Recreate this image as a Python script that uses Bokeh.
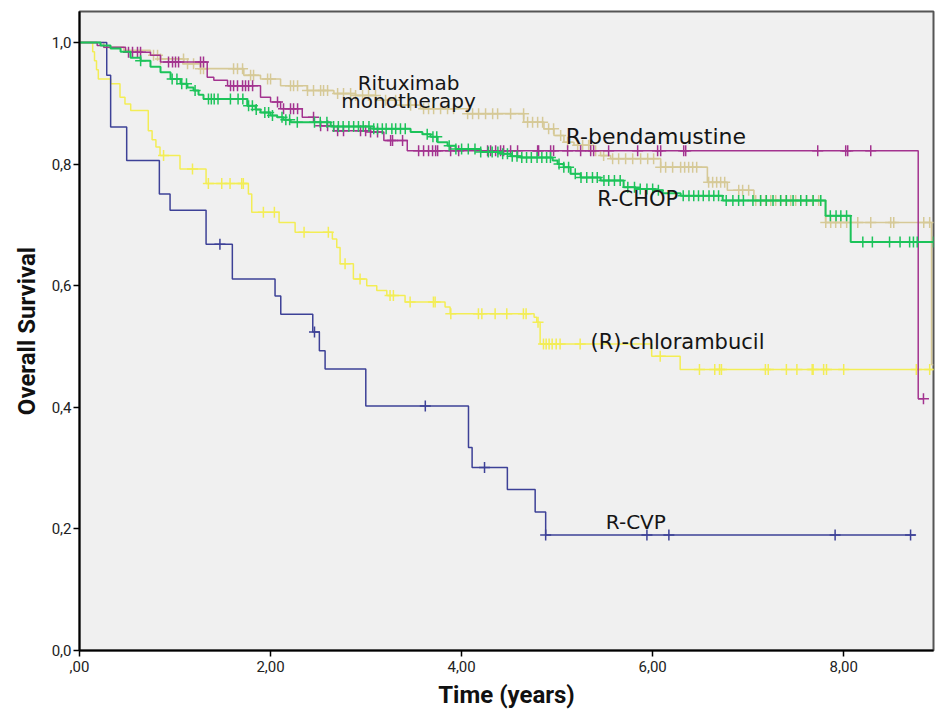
import numpy as np
from bokeh.plotting import figure
from bokeh.models import Range1d, FixedTicker, Label
from bokeh.embed import file_html
from bokeh.resources import INLINE

# ---------------- data ----------------
x_ticks = [0, 2, 4, 6, 8]
x_tick_labels = [",00", "2,00", "4,00", "6,00", "8,00"]
y_ticks = [0.0, 0.2, 0.4, 0.6, 0.8, 1.0]
y_tick_labels = ["0,0", "0,2", "0,4", "0,6", "0,8", "1,0"]

# Rituximab monotherapy (tan)
ritux_t = [0, 0.254, 0.464, 0.743, 0.848, 1.092, 1.267, 1.72, 1.895, 2.105, 2.384, 2.663, 2.89, 3.10, 3.31,
           3.57, 4.06, 4.65, 4.862, 4.967, 5.071, 5.176, 5.35, 5.455, 5.56, 6.084, 6.573, 6.782, 7.06, 7.81, 8.92]
ritux_s = [1.0, 0.992, 0.987, 0.979, 0.973, 0.965, 0.957, 0.946, 0.940, 0.929, 0.921, 0.916, 0.913, 0.905, 0.897,
           0.891, 0.883, 0.869, 0.858, 0.847, 0.836, 0.831, 0.822, 0.814, 0.809, 0.795, 0.770, 0.757, 0.740, 0.704, 0.47]
ritux_end = 8.94
ritux_cens = [0.775, 0.817, 0.848, 1.089, 1.131, 1.194, 1.267, 1.298, 1.613, 1.654, 1.707, 1.791, 1.822, 1.969,
              2.0, 2.209, 2.241, 2.283, 2.387, 2.45, 2.524, 2.555, 2.597, 2.702, 2.764, 2.838, 2.89, 2.963, 3.026,
              3.099, 3.204, 3.309, 3.466, 3.602, 3.654, 3.707, 3.78, 3.853, 3.916, 4.063, 4.115, 4.178, 4.251,
              4.325, 4.377, 4.513, 4.649, 4.691, 4.743, 4.796, 4.848, 4.911, 4.963, 5.037, 5.11, 5.215, 5.267,
              5.33, 5.403, 5.487, 5.581, 5.644, 5.717, 5.791, 5.874, 5.948, 6.01, 6.084, 6.136, 6.209, 6.293,
              6.335, 6.377, 6.419, 6.461, 6.586, 6.628, 6.67, 6.712, 6.754, 6.901, 6.942, 7.005, 7.079, 7.131,
              7.183, 7.236, 7.288, 7.34, 7.393, 7.445, 7.497, 7.55, 7.613, 7.675, 7.738, 7.812, 7.864, 7.916,
              7.969, 8.031, 8.147, 8.283, 8.492, 8.524, 8.838, 8.90]

# R-bendamustine (magenta)
benda_t = [0, 0.185, 0.254, 0.482, 0.743, 0.848, 1.337, 1.406, 1.55, 1.895, 2.0, 2.105, 2.332, 2.453, 2.524,
           2.663, 3.047, 3.186, 3.431, 8.78]
benda_s = [1.0, 0.995, 0.992, 0.984, 0.979, 0.968, 0.943, 0.938, 0.929, 0.910, 0.902, 0.891, 0.877, 0.869, 0.863,
           0.855, 0.853, 0.839, 0.822, 0.414]
benda_end = 8.835
benda_cens = [0.513, 0.555, 0.607, 0.639, 0.932, 0.974, 1.005, 1.037, 1.267, 1.298, 1.581, 1.613, 1.654, 1.707,
              1.738, 1.77, 1.812, 2.073, 2.136, 2.209, 2.241, 2.283, 2.45, 2.524, 2.597, 2.702, 2.764, 2.942,
              2.995, 3.047, 3.12, 3.257, 3.277, 3.382, 3.55, 3.602, 3.654, 3.696, 3.728, 3.749, 3.885, 3.969,
              4.272, 4.304, 4.356, 4.408, 4.44, 4.513, 4.586, 4.796, 4.806, 4.932, 4.963, 5.11, 5.246, 5.351,
              5.382, 5.539, 5.843, 6.052, 6.084, 6.325, 6.346, 7.728, 8.021, 8.042, 8.283, 8.835]

# R-CHOP (green)
chop_t = [0, 0.22, 0.325, 0.43, 0.534, 0.64, 0.743, 0.848, 0.953, 1.058, 1.13, 1.194, 1.246, 1.298, 1.756, 1.843,
          1.895, 2.0, 2.07, 2.136, 2.21, 2.63, 3.08, 3.466, 3.59, 3.675, 3.749, 3.853, 3.937, 4.199, 4.408, 4.513,
          4.618, 4.953, 5.005, 5.068, 5.141, 5.246, 5.455, 5.696, 5.822, 6.03, 6.105, 6.293, 6.733, 7.81, 8.073]
chop_s = [1.0, 0.995, 0.99, 0.985, 0.975, 0.97, 0.96, 0.951, 0.94, 0.932, 0.926, 0.921, 0.914, 0.907, 0.896, 0.89,
          0.885, 0.88, 0.877, 0.873, 0.869, 0.862, 0.858, 0.853, 0.849, 0.845, 0.836, 0.83, 0.825, 0.82, 0.817, 0.813,
          0.811, 0.806, 0.80, 0.795, 0.784, 0.778, 0.773, 0.762, 0.759, 0.757, 0.752, 0.748, 0.740, 0.715, 0.672]
chop_end = 8.94
chop_cens = [0.64, 0.97, 1.02, 1.07, 1.12, 1.21, 1.35, 1.38, 1.41, 1.45, 1.58, 1.66, 1.71, 1.77, 1.81, 1.85, 1.94,
             1.98, 2.02, 2.12, 2.16, 2.20, 2.28, 2.46, 2.52, 2.59, 2.66, 2.71, 2.76, 2.82, 2.87, 2.92, 2.97, 3.03,
             3.08, 3.12, 3.17, 3.21, 3.27, 3.31, 3.36, 3.41, 3.64, 3.70, 3.74, 3.87, 3.94, 4.00, 4.07, 4.14, 4.20,
             4.28, 4.32, 4.38, 4.43, 4.48, 4.53, 4.58, 4.63, 4.68, 4.73, 4.79, 4.84, 4.89, 4.93, 5.02, 5.07, 5.12,
             5.19, 5.25, 5.31, 5.37, 5.42, 5.49, 5.54, 5.60, 5.66, 5.74, 5.81, 5.87, 5.94, 6.00, 6.06, 6.32, 6.38,
             6.43, 6.48, 6.53, 6.59, 6.64, 6.69, 6.77, 6.84, 6.90, 6.95, 7.05, 7.13, 7.19, 7.26, 7.34, 7.40, 7.47,
             7.55, 7.61, 7.68, 7.76, 7.86, 7.92, 7.97, 8.03, 8.20, 8.30, 8.48, 8.59, 8.69, 8.73, 8.77, 8.94]

# (R)-chlorambucil (yellow)
chlor_t = [0, 0.138, 0.157, 0.178, 0.197, 0.326, 0.424, 0.476, 0.536, 0.72, 0.76, 0.80, 0.843, 1.052, 1.325, 1.768,
           1.803, 2.089, 2.257, 2.647, 2.693, 2.728, 2.867, 3.007, 3.112, 3.217, 3.408, 3.827, 3.880, 4.759, 4.787,
           4.822, 5.99, 6.288]
chlor_s = [1.0, 0.985, 0.97, 0.955, 0.94, 0.932, 0.91, 0.899, 0.888, 0.855, 0.84, 0.828, 0.814, 0.792, 0.768, 0.751,
           0.721, 0.704, 0.688, 0.677, 0.663, 0.636, 0.611, 0.600, 0.592, 0.584, 0.573, 0.565, 0.554, 0.548, 0.540,
           0.504, 0.484, 0.462]
chlor_end = 8.94
chlor_cens = [0.88, 1.183, 1.349, 1.489, 1.576, 1.698, 1.715, 1.925, 2.040, 2.351, 2.605, 2.78, 2.937, 3.251, 3.286,
              3.461, 3.705, 3.723, 3.887, 4.176, 4.212, 4.351, 4.473, 4.647, 4.675, 4.80, 4.857, 4.885, 4.916,
              4.948, 4.990, 5.031, 5.241, 6.079, 6.49, 6.65, 6.70, 6.72, 7.18, 7.21, 7.40, 7.51, 7.67, 7.68, 7.79,
              7.82, 8.00, 8.76, 8.90]

# R-CVP (navy)
cvp_t = [0, 0.285, 0.326, 0.494, 0.836, 0.948, 1.325, 1.600, 2.047, 2.107, 2.442, 2.511, 2.571, 2.997, 4.072, 4.11,
         4.479, 4.770, 4.88]
cvp_s = [1.0, 0.946, 0.861, 0.806, 0.751, 0.724, 0.668, 0.611, 0.583, 0.553, 0.524, 0.493, 0.463, 0.402, 0.334,
         0.301, 0.265, 0.228, 0.190]
cvp_end = 8.75
cvp_cens = [1.47, 2.46, 3.62, 4.24, 4.88, 5.94, 6.17, 7.91, 8.70]

# ---------------- figure ----------------
p = figure(width=936, height=726, output_backend="svg", toolbar_location=None,
           x_range=Range1d(0, 8.94), y_range=Range1d(0, 1.051),
           min_border_left=79, min_border_right=3, min_border_top=11, min_border_bottom=76)
p.background_fill_color = "#f0f0f0"
p.border_fill_color = "white"
p.outline_line_color = "#555555"
p.outline_line_width = 2
p.grid.visible = False

TICK_FONT = "Roboto"
for ax in (p.xaxis[0], p.yaxis[0]):
    ax.axis_line_color = "black"
    ax.axis_line_width = 2
    ax.major_tick_line_color = "black"
    ax.major_tick_line_width = 1.5
    ax.major_tick_out = 6
    ax.major_tick_in = 0
    ax.minor_tick_line_color = None
    ax.major_label_text_font = TICK_FONT
    ax.major_label_text_font_size = "15px"
    ax.major_label_text_color = "#222222"
    ax.axis_label_text_font = "Roboto"
    ax.axis_label_text_font_style = "bold"
    ax.axis_label_text_font_size = "24px"
    ax.axis_label_text_color = "#111111"

p.xaxis.ticker = FixedTicker(ticks=x_ticks)
p.xaxis.major_label_overrides = {t: l for t, l in zip(x_ticks, x_tick_labels)}
p.yaxis.ticker = FixedTicker(ticks=y_ticks)
p.yaxis.major_label_overrides = {t: l for t, l in zip(y_ticks, y_tick_labels)}
p.xaxis.axis_label = "Time (years)"
p.yaxis.axis_label = "Overall Survival"
p.xaxis.major_label_standoff = 4
p.yaxis.major_label_standoff = 2
p.xaxis.axis_label_standoff = 6
p.yaxis.axis_label_standoff = 8


def censor_y(steps_t, steps_s, ct):
    idx = np.searchsorted(np.array(steps_t), np.array(ct), side="right") - 1
    return [steps_s[i] for i in idx]


series = [
    (ritux_t, ritux_s, ritux_end, ritux_cens, "#d6c997", 1.6),
    (chlor_t, chlor_s, chlor_end, chlor_cens, "#f3ed55", 1.5),
    (cvp_t, cvp_s, cvp_end, cvp_cens, "#3d4197", 1.5),
    (benda_t, benda_s, benda_end, benda_cens, "#a3338f", 1.5),
    (chop_t, chop_s, chop_end, chop_cens, "#1cc35a", 2.0),
]
for st, ss, end, cens, col, lw in series:
    xs = list(st) + [end]
    ys = list(ss) + [ss[-1]]
    p.step(xs, ys, mode="after", line_color=col, line_width=lw)
    p.scatter(cens, censor_y(st, ss, cens), marker="cross", size=11,
              line_color=col, line_width=1.5)

LABEL_FONT = "DejaVu Sans"
labels = [
    ("Rituximab", 3.445, 0.934, "center", "20px"),
    ("monotherapy", 3.445, 0.903, "center", "20px"),
    ("R-bendamustine", 5.09, 0.845, "left", "22px"),
    ("R-CHOP", 5.42, 0.743, "left", "21px"),
    ("(R)-chlorambucil", 5.35, 0.507, "left", "21px"),
    ("R-CVP", 5.51, 0.212, "left", "20px"),
]
for txt, lx, ly, al, fs in labels:
    p.add_layout(Label(x=lx, y=ly, text=txt, text_align=al, text_baseline="middle",
                       text_font=LABEL_FONT, text_font_size=fs, text_color="#151515"))

open("out.html", "w").write(file_html(p, INLINE))
